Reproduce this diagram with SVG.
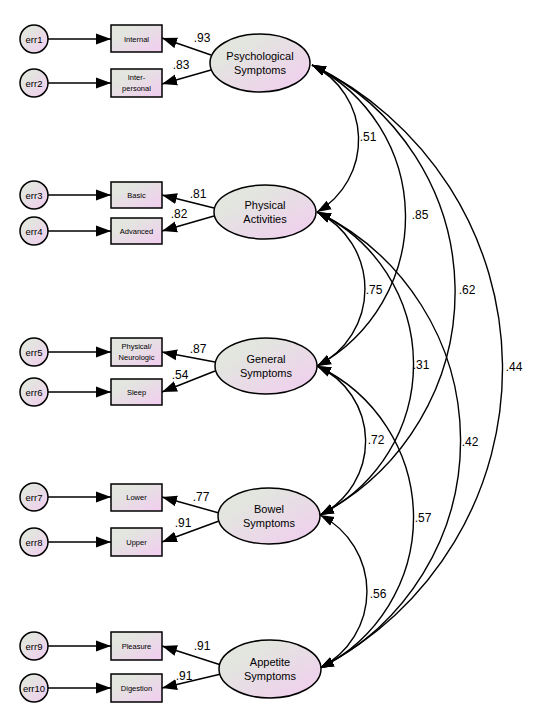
<svg xmlns="http://www.w3.org/2000/svg" width="533" height="722" viewBox="0 0 533 722">
<defs>
<linearGradient id="g" x1="0" y1="0" x2="1" y2="1">
<stop offset="0.25" stop-color="#e2e6df"/>
<stop offset="1" stop-color="#f2ccf0"/>
</linearGradient>
<marker id="ah" markerUnits="userSpaceOnUse" markerWidth="16" markerHeight="12" refX="15" refY="6" orient="auto-start-reverse">
<path d="M0,0.5 L15,6 L0,11.5 z" fill="#000"/>
</marker>
<marker id="ac" markerUnits="userSpaceOnUse" markerWidth="15" markerHeight="12" refX="14" refY="6" orient="auto-start-reverse">
<path d="M0,1 L14,6 L0,11 z" fill="#000"/>
</marker>
</defs>
<style>
.lat ellipse{fill:url(#g);stroke:#000;stroke-width:1.5}
.obs rect{fill:url(#g);stroke:#000;stroke-width:1.5}
.err circle{fill:url(#g);stroke:#000;stroke-width:1.5}
text{font-family:"Liberation Sans",Arial,sans-serif;fill:#000;text-anchor:middle}
.lt{font-size:11px}
.bt{font-size:7.5px}
.et{font-size:9.5px}
.nt{font-size:12px}
.ln{stroke:#000;stroke-width:1.5;fill:none;marker-end:url(#ah)}
.arc{stroke:#000;stroke-width:1.4;fill:none;marker-start:url(#ac);marker-end:url(#ac)}
</style>

<g id="connectors">
<!-- error to indicator -->
<line class="ln" x1="48" y1="39" x2="111" y2="39"/>
<line class="ln" x1="48" y1="83" x2="111" y2="83"/>
<line class="ln" x1="48" y1="195" x2="111" y2="195"/>
<line class="ln" x1="48" y1="231" x2="111" y2="231"/>
<line class="ln" x1="48" y1="352" x2="111" y2="352"/>
<line class="ln" x1="48" y1="392" x2="111" y2="392"/>
<line class="ln" x1="48" y1="497" x2="111" y2="497"/>
<line class="ln" x1="48" y1="542" x2="111" y2="542"/>
<line class="ln" x1="48" y1="646" x2="111" y2="646"/>
<line class="ln" x1="48" y1="688" x2="111" y2="688"/>
<!-- loadings -->
<line class="ln" x1="211" y1="55" x2="162" y2="38"/>
<line class="ln" x1="211" y1="70" x2="162" y2="84"/>
<line class="ln" x1="214" y1="208" x2="162" y2="195"/>
<line class="ln" x1="214" y1="216" x2="162" y2="231"/>
<line class="ln" x1="215" y1="362" x2="162" y2="352"/>
<line class="ln" x1="215" y1="371" x2="162" y2="392"/>
<line class="ln" x1="219" y1="513" x2="162" y2="497"/>
<line class="ln" x1="219" y1="521" x2="162" y2="542"/>
<line class="ln" x1="221" y1="665" x2="162" y2="646"/>
<line class="ln" x1="221" y1="674" x2="162" y2="688"/>
<!-- covariances -->
<path class="arc" d="M312,65 A83.4,83.4 0 0 1 317,212"/>
<path class="arc" d="M312,65 A170,170 0 0 1 317,366"/>
<path class="arc" d="M312,65 A251.6,251.6 0 0 1 320,515"/>
<path class="arc" d="M312,65 A337,337 0 0 1 320,668"/>
<path class="arc" d="M317,212 A85.8,85.8 0 0 1 317,366"/>
<path class="arc" d="M317,212 A168.3,168.3 0 0 1 320,515"/>
<path class="arc" d="M317,212 A254,254 0 0 1 320,668"/>
<path class="arc" d="M317,366 A82.5,82.5 0 0 1 320,515"/>
<path class="arc" d="M317,366 A167.5,167.5 0 0 1 320,668"/>
<path class="arc" d="M320,515 A85.8,85.8 0 0 1 320,668"/>
</g>

<g id="labels">
<text class="nt" x="202" y="42">.93</text>
<text class="nt" x="181" y="69">.83</text>
<text class="nt" x="198" y="198">.81</text>
<text class="nt" x="179" y="218">.82</text>
<text class="nt" x="198" y="353">.87</text>
<text class="nt" x="180" y="379">.54</text>
<text class="nt" x="201" y="501">.77</text>
<text class="nt" x="183" y="527">.91</text>
<text class="nt" x="202" y="650">.91</text>
<text class="nt" x="184" y="680">.91</text>
<text class="nt" x="368" y="141">.51</text>
<text class="nt" x="420" y="219">.85</text>
<text class="nt" x="467" y="294">.62</text>
<text class="nt" x="514" y="371">.44</text>
<text class="nt" x="374" y="294">.75</text>
<text class="nt" x="421" y="369">.31</text>
<text class="nt" x="470" y="446">.42</text>
<text class="nt" x="376" y="444">.72</text>
<text class="nt" x="423" y="522">.57</text>
<text class="nt" x="378" y="598">.56</text>
</g>

<g id="psych" class="lat"><ellipse cx="260" cy="63" rx="50" ry="29"/><text class="lt" x="260" y="60">Psychological</text><text class="lt" x="260" y="74">Symptoms</text></g>
<g id="physical" class="lat"><ellipse cx="265" cy="212" rx="51" ry="27"/><text class="lt" x="265" y="209">Physical</text><text class="lt" x="265" y="223">Activities</text></g>
<g id="general" class="lat"><ellipse cx="266" cy="366" rx="51" ry="28"/><text class="lt" x="266" y="363">General</text><text class="lt" x="266" y="377">Symptoms</text></g>
<g id="bowel" class="lat"><ellipse cx="269" cy="516" rx="51" ry="28"/><text class="lt" x="269" y="513">Bowel</text><text class="lt" x="269" y="527">Symptoms</text></g>
<g id="appetite" class="lat"><ellipse cx="270" cy="669" rx="51" ry="29"/><text class="lt" x="270" y="666">Appetite</text><text class="lt" x="270" y="680">Symptoms</text></g>

<g id="internal" class="obs"><rect x="111" y="25" width="51" height="27"/><text class="bt" x="136.5" y="41.5">Internal</text></g>
<g id="interpersonal" class="obs"><rect x="111" y="69" width="51" height="28"/><text class="bt" x="136.5" y="80">Inter-</text><text class="bt" x="136.5" y="91">personal</text></g>
<g id="basic" class="obs"><rect x="111" y="182" width="51" height="26"/><text class="bt" x="136.5" y="197.5">Basic</text></g>
<g id="advanced" class="obs"><rect x="111" y="218" width="51" height="26"/><text class="bt" x="136.5" y="233.5">Advanced</text></g>
<g id="physneuro" class="obs"><rect x="111" y="338" width="51" height="28"/><text class="bt" x="136.5" y="349">Physical/</text><text class="bt" x="136.5" y="360">Neurologic</text></g>
<g id="sleep" class="obs"><rect x="111" y="379" width="51" height="26"/><text class="bt" x="136.5" y="394.5">Sleep</text></g>
<g id="lower" class="obs"><rect x="111" y="484" width="51" height="27"/><text class="bt" x="136.5" y="500">Lower</text></g>
<g id="upper" class="obs"><rect x="111" y="528" width="51" height="28"/><text class="bt" x="136.5" y="545">Upper</text></g>
<g id="pleasure" class="obs"><rect x="111" y="632" width="51" height="28"/><text class="bt" x="136.5" y="649">Pleasure</text></g>
<g id="digestion" class="obs"><rect x="111" y="674" width="51" height="28"/><text class="bt" x="136.5" y="691">Digestion</text></g>

<g id="err1" class="err"><circle cx="34" cy="39" r="14"/><text class="et" x="34" y="42.5">err1</text></g>
<g id="err2" class="err"><circle cx="34" cy="83" r="14"/><text class="et" x="34" y="86.5">err2</text></g>
<g id="err3" class="err"><circle cx="34" cy="195" r="14"/><text class="et" x="34" y="198.5">err3</text></g>
<g id="err4" class="err"><circle cx="34" cy="231" r="14"/><text class="et" x="34" y="234.5">err4</text></g>
<g id="err5" class="err"><circle cx="34" cy="352" r="14"/><text class="et" x="34" y="355.5">err5</text></g>
<g id="err6" class="err"><circle cx="34" cy="392" r="14"/><text class="et" x="34" y="395.5">err6</text></g>
<g id="err7" class="err"><circle cx="34" cy="497" r="14"/><text class="et" x="34" y="500.5">err7</text></g>
<g id="err8" class="err"><circle cx="34" cy="542" r="14"/><text class="et" x="34" y="545.5">err8</text></g>
<g id="err9" class="err"><circle cx="34" cy="646" r="14"/><text class="et" x="34" y="649.5">err9</text></g>
<g id="err10" class="err"><circle cx="34" cy="688" r="14"/><text class="et" x="34" y="691.5">err10</text></g>
</svg>
